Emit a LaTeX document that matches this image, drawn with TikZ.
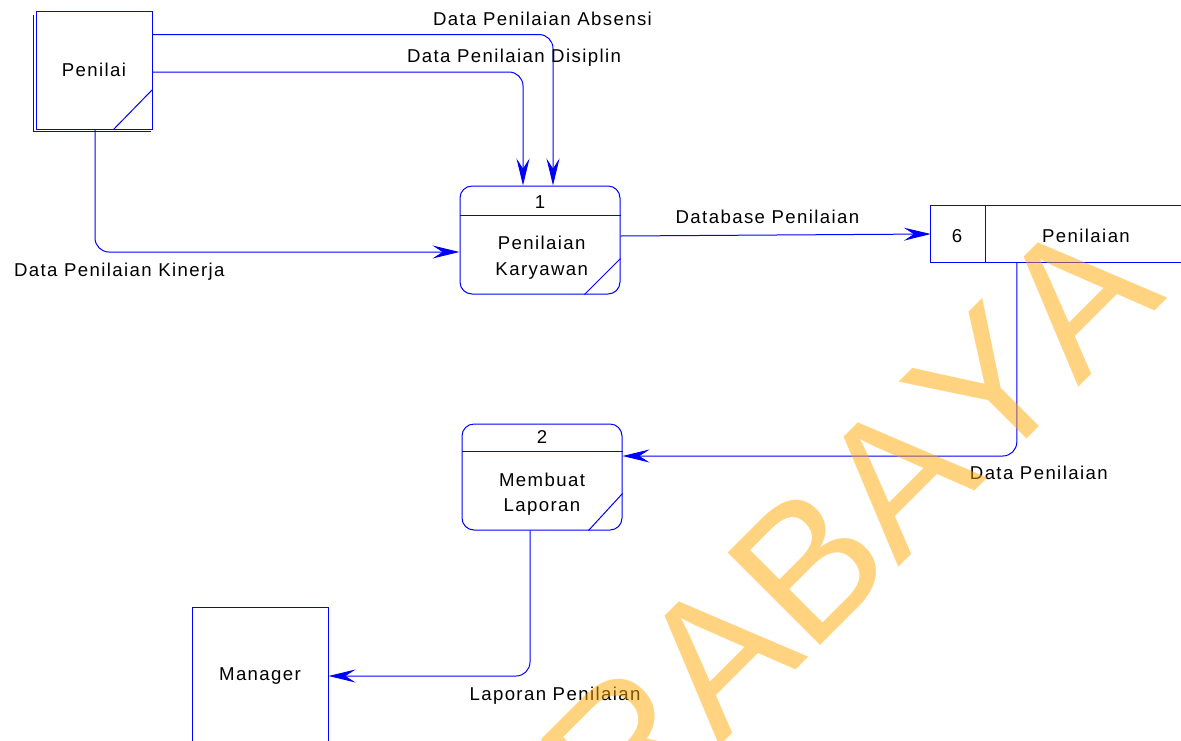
\documentclass[tikz,border=0pt]{standalone}
\usepackage{fontspec}
\usetikzlibrary{arrows.meta}
\newfontfamily\lblfont{Liberation Sans}[LetterSpace=7.5]
\newfontfamily\wmfont{Liberation Sans}[Kerning=Off]
\definecolor{dfdblue}{RGB}{0,0,255}
\definecolor{wmorange}{RGB}{255,167,0}
\begin{document}
\begin{tikzpicture}[x=1pt,y=-1pt,
  shapeline/.style={draw=dfdblue, line width=1pt},
  ent/.style={shapeline, fill=white, inner sep=0pt,
    font=\lblfont\fontsize{18.6}{22}\selectfont},
  proc/.style={shapeline, fill=white, rounded corners=12pt,
    minimum width=160pt, inner sep=0pt},
  flow/.style={draw=dfdblue, line width=1pt, rounded corners=14pt,
    -{Stealth[length=27pt,width=13pt,inset=10pt]}},
  lbl/.style={font=\lblfont\fontsize{18.6}{22}\selectfont,
    anchor=base, inner sep=0pt, text=black},
]
\useasboundingbox (0,0) rectangle (1181,740);
\begin{scope}
\clip (0,0) rectangle (1181,740);

% external entity: Penilai (with offset shadow edge)
\node[ent, minimum width=116pt, minimum height=118pt] (penilai) at (94,70) {Penilai};
\draw[shapeline] ([xshift=-2pt,yshift=-4pt]penilai.north west)
  |- ([xshift=-2pt,yshift=-2pt]penilai.south east);
\draw[shapeline] ([yshift=40pt]penilai.south east) -- ([xshift=-39pt]penilai.south east);

% external entity: Manager
\node[ent, minimum width=136pt, minimum height=138pt] (manager) at (260,676) {Manager};

% process 1
\node[proc, minimum height=108pt] (p1) at (540,240) {};
\draw[shapeline] ([yshift=-30pt]p1.north west) -- ([yshift=-30pt]p1.north east);
\draw[shapeline] ([yshift=36pt]p1.south east) -- ([xshift=-36pt]p1.south east);
\node[lbl] (p1num) at (540,208.3) {1};
\node[lbl] (p1a) at (541.7,249.3) {Penilaian};
\node[lbl] (p1b) at (541.7,275) {Karyawan};

% process 2
\node[proc, minimum height=106pt] (p2) at (542,477) {};
\draw[shapeline] ([yshift=-28pt]p2.north west) -- ([yshift=-28pt]p2.north east);
\draw[shapeline] ([yshift=37pt]p2.south east) -- ([xshift=-34pt]p2.south east);
\node[lbl] (p2num) at (542,443.3) {2};
\node[lbl] (p2a) at (542,486) {Membuat};
\node[lbl] (p2b) at (542,511) {Laporan};

% data store 6 (open on the right)
\node[minimum width=250pt, minimum height=56pt, inner sep=0pt] (store) at (1056,234) {};
\draw[shapeline] (store.north east) -- (store.north west) -- (store.south west) -- (store.south east);
\draw[shapeline] ([xshift=55pt]store.north west) -- ([xshift=55pt]store.south west);
\node[lbl] (storenum) at (957,242.7) {6};
\node[lbl] (storename) at (1086,242.7) {Penilaian};

% data flows
\coordinate (absL) at ([yshift=-24pt]penilai.north east);
\coordinate (disL) at ([yshift=-61.5pt]penilai.north east);
\draw[flow] (absL) -| ([xshift=13pt]p1.north);
\draw[flow] (disL) -| ([xshift=-17pt]p1.north);
\draw[flow] ([xshift=1pt]penilai.south) |- ([yshift=-12pt]p1.west);
\draw[flow] ([yshift=4pt]p1.east) -- (store.west);
\draw[flow] ([xshift=86pt]store.south west) |- ([yshift=21pt]p2.east);
\draw[flow] ([xshift=-12pt]p2.south) |- (manager.east);

% flow labels
\node[lbl] (lab1) at (542.5,25) {Data Penilaian Absensi};
\node[lbl] (lab2) at (514,62.7) {Data Penilaian Disiplin};
\node[lbl] (lab3) at (119.3,276.7) {Data Penilaian Kinerja};
\node[lbl] (lab4) at (767.5,223.3) {Database Penilaian};
\node[lbl] (lab5) at (1038.8,479.3) {Data Penilaian};
\node[lbl] (lab6) at (555,700) {Laporan Penilaian};

% watermark
\node[rotate=45, anchor=base east, inner sep=0pt, text=wmorange, opacity=0.5,
  font=\wmfont\fontsize{190}{190}\selectfont] (wm) at (1168,298) {SURABAYA};
\end{scope}
\end{tikzpicture}
\end{document}
